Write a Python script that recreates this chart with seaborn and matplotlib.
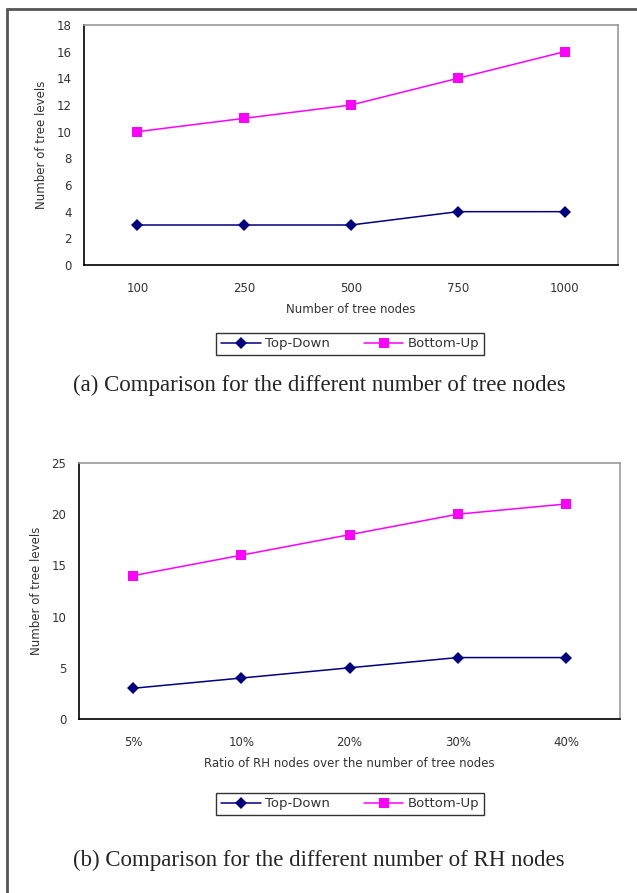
import seaborn as sns
import matplotlib.pyplot as plt
import pandas as pd
from matplotlib.lines import Line2D

# panel (a): number of tree nodes
nodes = ["100", "250", "500", "750", "1000"]
nodes_top_down = [3, 3, 3, 4, 4]
nodes_bottom_up = [10, 11, 12, 14, 16]

# panel (b): ratio of RH nodes
ratios = ["5%", "10%", "20%", "30%", "40%"]
ratio_top_down = [3, 4, 5, 6, 6]
ratio_bottom_up = [14, 16, 18, 20, 21]

series = ["Top-Down", "Bottom-Up"]
colors = {"Top-Down": "#000080", "Bottom-Up": "#FF00FF"}
markers = {"Top-Down": "D", "Bottom-Up": "s"}


def to_long(cats, td, bu):
    return pd.DataFrame({
        "x": cats * 2,
        "y": td + bu,
        "series": ["Top-Down"] * len(cats) + ["Bottom-Up"] * len(cats),
    })


def draw(ax, df, cats, ymax, ystep, xlabel):
    sns.lineplot(data=df, x="x", y="y", hue="series", style="series",
                 palette=colors, markers=markers, dashes=False, sort=False,
                 linewidth=1.1, markersize=6, markeredgewidth=0, ax=ax,
                 legend=False)
    for m, name in zip(ax.lines, series):
        if name == "Top-Down":
            m.set_markersize(6)
        else:
            m.set_markersize(6.5)
    ax.set_xlim(-0.5, len(cats) - 0.5)
    ax.set_ylim(0, ymax)
    ax.set_yticks(range(0, ymax + 1, ystep))
    ax.set_xticks(range(len(cats)))
    ax.set_xticklabels(cats)
    ax.set_xticks([i + 0.5 for i in range(len(cats))], minor=True)
    ax.tick_params(axis="x", which="major", length=0, pad=12, labelsize=8.5,
                   colors="#333333")
    ax.tick_params(axis="x", which="minor", length=4, direction="in",
                   color="black")
    ax.tick_params(axis="y", length=3, direction="out", labelsize=8.5,
                   colors="#333333", pad=6)
    ax.set_xlabel(xlabel, fontsize=8.5, color="#333333", labelpad=6)
    ax.set_ylabel("Number of tree levels", fontsize=8.5, color="#333333",
                  labelpad=6)
    for side in ["top", "right"]:
        ax.spines[side].set_color("#999999")
        ax.spines[side].set_linewidth(1.2)
    for side in ["left", "bottom"]:
        ax.spines[side].set_color("black")
        ax.spines[side].set_linewidth(1.2)
    ax.grid(False)
    ax.set_facecolor("white")


sns.set_style("white")
plt.rcParams["font.family"] = ["DejaVu Sans"]

fig = plt.figure(figsize=(6.37, 8.93), dpi=100)
W, H = 637, 893

ax1 = fig.add_axes([84 / W, 1 - 265 / H, (618 - 84) / W, (265 - 25) / H])
ax2 = fig.add_axes([79 / W, 1 - 719 / H, (620 - 79) / W, (719 - 463) / H])

draw(ax1, to_long(nodes, nodes_top_down, nodes_bottom_up), nodes, 18, 2,
     "Number of tree nodes")
draw(ax2, to_long(ratios, ratio_top_down, ratio_bottom_up), ratios, 25, 5,
     "Ratio of RH nodes over the number of tree nodes")

handles = [Line2D([], [], color=colors[s], marker=markers[s], linewidth=1.1,
                  markersize=6 if s == "Top-Down" else 6.5,
                  markeredgewidth=0) for s in series]

for cy in [344 / H, 804 / H]:
    fig.legend(handles, series, loc="center", bbox_to_anchor=(350 / W, 1 - cy),
               ncol=2, frameon=True, fancybox=False, edgecolor="black",
               fontsize=9.5, handlelength=3, handletextpad=0.3,
               columnspacing=2.6, borderpad=0.35, labelcolor="#333333")

fig.text(319 / W, 1 - 385 / H, "(a) Comparison for the different number of tree nodes",
         ha="center", va="center", fontsize=16.5, family="Liberation Serif")
fig.text(319 / W, 1 - 860 / H, "(b) Comparison for the different number of RH nodes",
         ha="center", va="center", fontsize=16.5, family="Liberation Serif")

# outer frame lines (top and left only)
fig.add_artist(Line2D([7 / W, 1], [1 - 9 / H, 1 - 9 / H], color="#555555",
                      linewidth=2, transform=fig.transFigure))
fig.add_artist(Line2D([7 / W, 7 / W], [0, 1 - 9 / H], color="#555555",
                      linewidth=2, transform=fig.transFigure))

fig.savefig("out.png", dpi=100)
